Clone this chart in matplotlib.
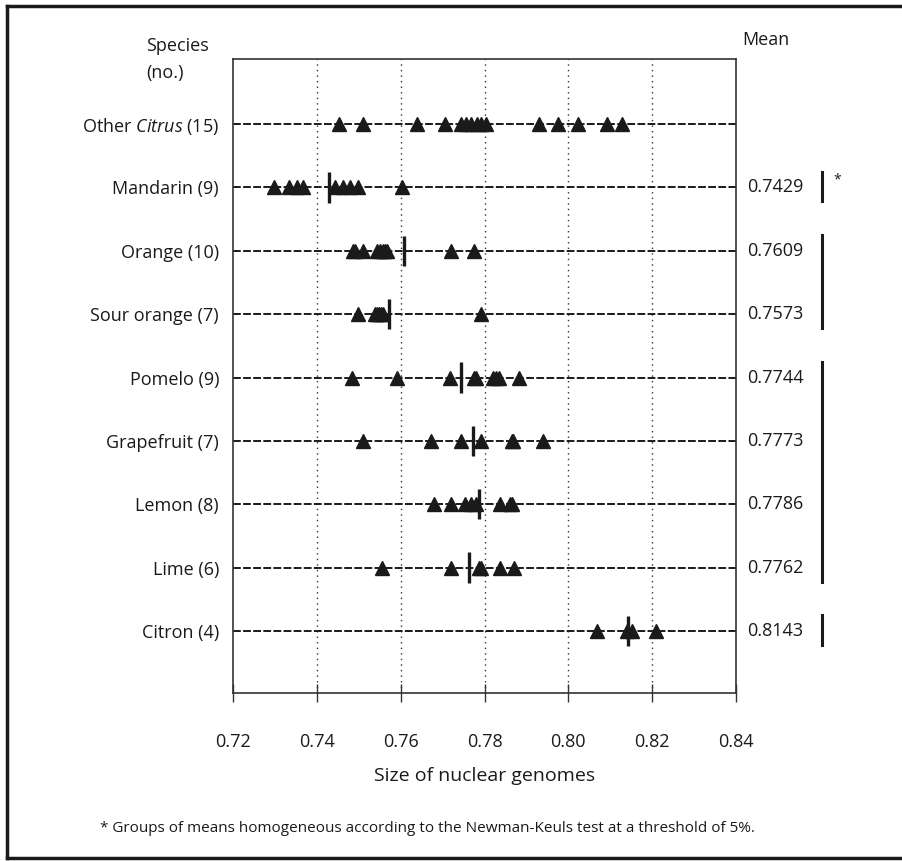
import matplotlib
matplotlib.use('Agg')
import matplotlib.pyplot as plt
import matplotlib.transforms as mtransforms
from matplotlib.lines import Line2D

plt.rcParams['font.family'] = ['Open Sans', 'DejaVu Sans']
plt.rcParams['mathtext.fontset'] = 'custom'
plt.rcParams['mathtext.rm'] = 'Open Sans'
plt.rcParams['mathtext.it'] = 'Open Sans:italic'

INK = '#1a1a1a'

# species labels, top to bottom
species = ['Other $\\mathit{Citrus}$ (15)', 'Mandarin (9)', 'Orange (10)',
           'Sour orange (7)', 'Pomelo (9)', 'Grapefruit (7)', 'Lemon (8)',
           'Lime (6)', 'Citron (4)']

# individual genome sizes
other_citrus = [0.7453, 0.7509, 0.7638, 0.7705, 0.7745, 0.7756, 0.7767, 0.7781,
                0.7792, 0.7803, 0.7929, 0.7976, 0.8024, 0.8092, 0.8129]
mandarin = [0.7297, 0.7333, 0.7353, 0.7366, 0.7443, 0.7462, 0.7479, 0.7498, 0.7602]
orange = [0.7486, 0.7490, 0.7509, 0.7544, 0.7550, 0.7557, 0.7562, 0.7568,
          0.7720, 0.7776]
sour_orange = [0.7498, 0.7538, 0.7543, 0.7548, 0.7553, 0.7557, 0.7791]
pomelo = [0.7485, 0.7591, 0.7718, 0.7776, 0.7780, 0.7821, 0.7828, 0.7834, 0.7882]
grapefruit = [0.7509, 0.7673, 0.7743, 0.7791, 0.7866, 0.7869, 0.7939]
lemon = [0.7680, 0.7720, 0.7754, 0.7767, 0.7780, 0.7836, 0.7860, 0.7866]
lime = [0.7555, 0.7720, 0.7788, 0.7791, 0.7836, 0.7871]
citron = [0.8068, 0.8140, 0.8152, 0.8209]

values = [other_citrus, mandarin, orange, sour_orange, pomelo, grapefruit,
          lemon, lime, citron]

# means (None for "Other Citrus")
means = [None, 0.7429, 0.7609, 0.7573, 0.7744, 0.7773, 0.7786, 0.7762, 0.8143]

# Newman-Keuls homogeneous groups: (first row, last row)
groups = [(1, 1), (2, 3), (4, 7), (8, 8)]

xticks = [0.72, 0.74, 0.76, 0.78, 0.80, 0.82, 0.84]

W, H = 902, 861
fig = plt.figure(figsize=(W / 100, H / 100), dpi=100)
fig.patch.set_facecolor('white')


def fx(px):
    return px / W


def fy(py):
    return 1 - py / H


ax = fig.add_axes([fx(233), fy(693), fx(736) - fx(233), fy(59) - fy(693)])
ax.set_xlim(0.72, 0.84)
ax.set_ylim(8.978, -1.026)

rows = list(range(len(species)))

# vertical dotted grid
for v in xticks[1:-1]:
    ax.axvline(v, color='#333333', lw=1.0, ls=(0, (1, 3)), zorder=1)

# dashed row lines
for r in rows:
    ax.axhline(r, color=INK, lw=1.4, ls=(0, (4, 1.2)), zorder=2)

for r, vals in zip(rows, values):
    ax.plot(vals, [r] * len(vals), ls='none', marker='^', ms=9.5,
            color=INK, mec=INK, zorder=3)

for r, m in zip(rows, means):
    if m is not None:
        ax.vlines(m, r - 0.24, r + 0.24, color=INK, lw=2.4, zorder=4)

ax.set_xticks(xticks)
ax.set_xticklabels([f'{v:.2f}' for v in xticks], fontsize=13, color=INK)
ax.tick_params(axis='x', direction='inout', length=13, width=1.0,
               color='#333333', pad=22)
ax.set_yticks(rows)
ax.set_yticklabels(species, fontsize=13, color=INK)
ax.tick_params(axis='y', length=0, pad=10)
for s in ax.spines.values():
    s.set_color('#333333')
    s.set_linewidth(1.2)

ax.set_xlabel('Size of nuclear genomes', fontsize=14, color=INK, labelpad=12)

# header texts
fig.text(fx(146), fy(46), 'Species', fontsize=13, color=INK, va='center')
fig.text(fx(146), fy(73), '(no.)', fontsize=13, color=INK, va='center')
fig.text(fx(742), fy(40), 'Mean', fontsize=13, color=INK, va='center')

# mean values column
trans = mtransforms.blended_transform_factory(fig.transFigure, ax.transData)
for r, m in zip(rows, means):
    if m is not None:
        ax.text(fx(747), r, f'{m:.4f}', transform=trans, fontsize=13,
                color=INK, va='center', ha='left')

# group bars
for a, b in groups:
    ax.add_line(Line2D([fx(822), fx(822)], [a - 0.25, b + 0.22],
                       transform=trans, color=INK, lw=2.2, clip_on=False))
ax.text(fx(833), 0.88, '*', transform=trans, fontsize=10, color=INK,
        va='center', ha='left')

fig.text(fx(100), fy(828),
         '* Groups of means homogeneous according to the Newman-Keuls test '
         'at a threshold of 5%.', fontsize=11, color=INK, va='center')

# outer frame
for xs, ys in [([7, 7], [6, 858]), ([7, 902], [6, 6]), ([7, 902], [858, 858])]:
    fig.add_artist(Line2D([fx(x) for x in xs], [fy(y) for y in ys],
                          color=INK, lw=2.5))

fig.savefig('out.png', dpi=100, facecolor='white')
